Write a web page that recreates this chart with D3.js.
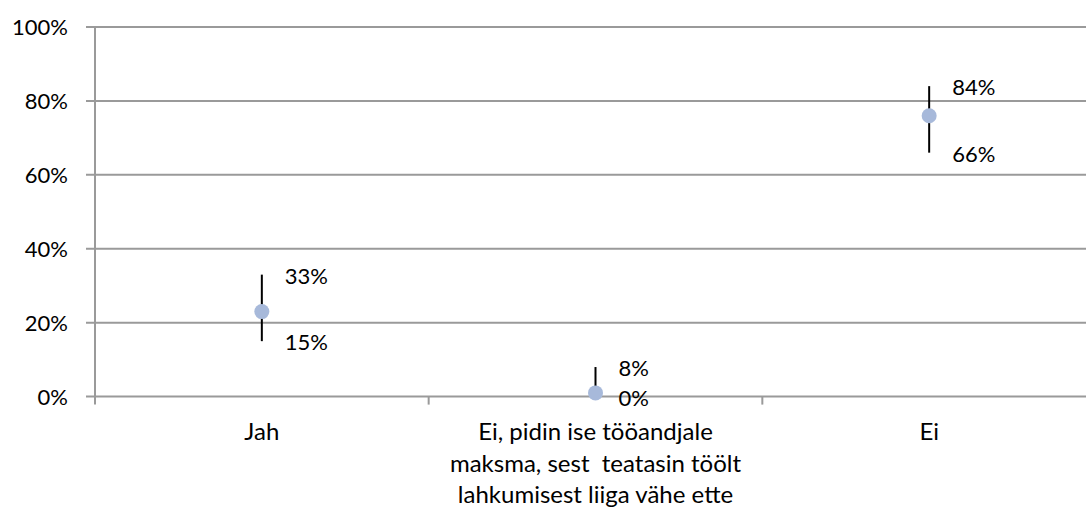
<!DOCTYPE html>
<html>
<head>
<meta charset="utf-8">
<script src="https://cdn.jsdelivr.net/npm/d3@7"></script>
<style>
  html, body { margin: 0; padding: 0; background: #fff; }
  svg { display: block; }
  text { font-family: Lato, "Open Sans", sans-serif; fill: #000; }
</style>
</head>
<body>
<svg id="chart" width="1086" height="507"></svg>
<script>
// Answer categories (multi-line labels split on "\n")
const categories = [
  "Jah",
  "Ei, pidin ise tööandjale\nmaksma, sest  teatasin töölt\nlahkumisest liiga vähe ette",
  "Ei"
];
// Point estimates and confidence interval bounds (share of respondents)
const estimates = [0.23, 0.01, 0.76];
const lowerBounds = [0.15, 0.00, 0.66];
const upperBounds = [0.33, 0.08, 0.84];
const lowerLabels = ["15%", "0%", "66%"];
const upperLabels = ["33%", "8%", "84%"];
const yTicks = [0, 0.2, 0.4, 0.6, 0.8, 1.0];

const svg = d3.select("#chart");
const margin = { left: 95, right: -10, top: 27, bottom: 111 };
const W = 1086, H = 507;
const x0 = margin.left, x1 = W - margin.right;
const y0 = H - margin.bottom, y1 = margin.top;
const fsNum = 22;   // numeric labels
const fsCat = 24;   // category labels

const x = d3.scaleBand().domain(categories).range([x0, x1]).paddingInner(0).paddingOuter(0);
const y = d3.scaleLinear().domain([0, 1]).range([y0 + 0.6, y1]);

const gridColor = "#9a9a9a";

// Horizontal gridlines
svg.append("g").selectAll("line").data(yTicks).join("line")
  .attr("x1", x0 - 9).attr("x2", x1)
  .attr("y1", d => y(d)).attr("y2", d => y(d))
  .attr("stroke", gridColor).attr("stroke-width", 2);

// Vertical axis line
svg.append("line")
  .attr("x1", x0).attr("x2", x0)
  .attr("y1", y(1)).attr("y2", y(0) + 8)
  .attr("stroke", gridColor).attr("stroke-width", 2);

// Category boundary ticks below the axis
const bounds = categories.slice(1).map(c => x(c));
svg.append("g").selectAll("line").data(bounds).join("line")
  .attr("x1", d => d).attr("x2", d => d)
  .attr("y1", y(0)).attr("y2", y(0) + 8)
  .attr("stroke", gridColor).attr("stroke-width", 2);

// Y tick labels
svg.append("g").selectAll("text").data(yTicks).join("text")
  .attr("x", 68).attr("y", d => y(d) + 8)
  .attr("text-anchor", "end")
  .attr("font-size", fsNum)
  .text(d => d3.format(".0%")(d));

// Category labels
const catG = svg.append("g");
categories.forEach(c => {
  const lines = c.split("\n");
  const cxp = x(c) + x.bandwidth() / 2;
  const t = catG.append("text")
    .attr("text-anchor", "middle")
    .attr("font-size", fsCat)
    .style("white-space", "pre");
  lines.forEach((ln, i) => {
    t.append("tspan")
      .attr("x", cxp)
      .attr("y", 440 + i * 31.5)
      .text(ln);
  });
});

const cx = i => x(categories[i]) + x.bandwidth() / 2;
const idx = d3.range(categories.length);

// Error bars
svg.append("g").selectAll("line").data(idx).join("line")
  .attr("x1", cx).attr("x2", cx)
  .attr("y1", i => y(lowerBounds[i])).attr("y2", i => y(upperBounds[i]))
  .attr("stroke", "#000").attr("stroke-width", 2);

// Point estimates
svg.append("g").selectAll("circle").data(idx).join("circle")
  .attr("cx", cx).attr("cy", i => y(estimates[i]))
  .attr("r", 7.5).attr("fill", "#a7b9da");

// Interval bound labels
const lab = svg.append("g").attr("font-size", fsNum);
lab.selectAll("text.up").data(idx).join("text").attr("class", "up")
  .attr("x", i => cx(i) + 23).attr("y", i => y(upperBounds[i]) + 9)
  .text(i => upperLabels[i]);
lab.selectAll("text.lo").data(idx).join("text").attr("class", "lo")
  .attr("x", i => cx(i) + 23).attr("y", i => y(lowerBounds[i]) + 9)
  .text(i => lowerLabels[i]);
</script>
</body>
</html>
